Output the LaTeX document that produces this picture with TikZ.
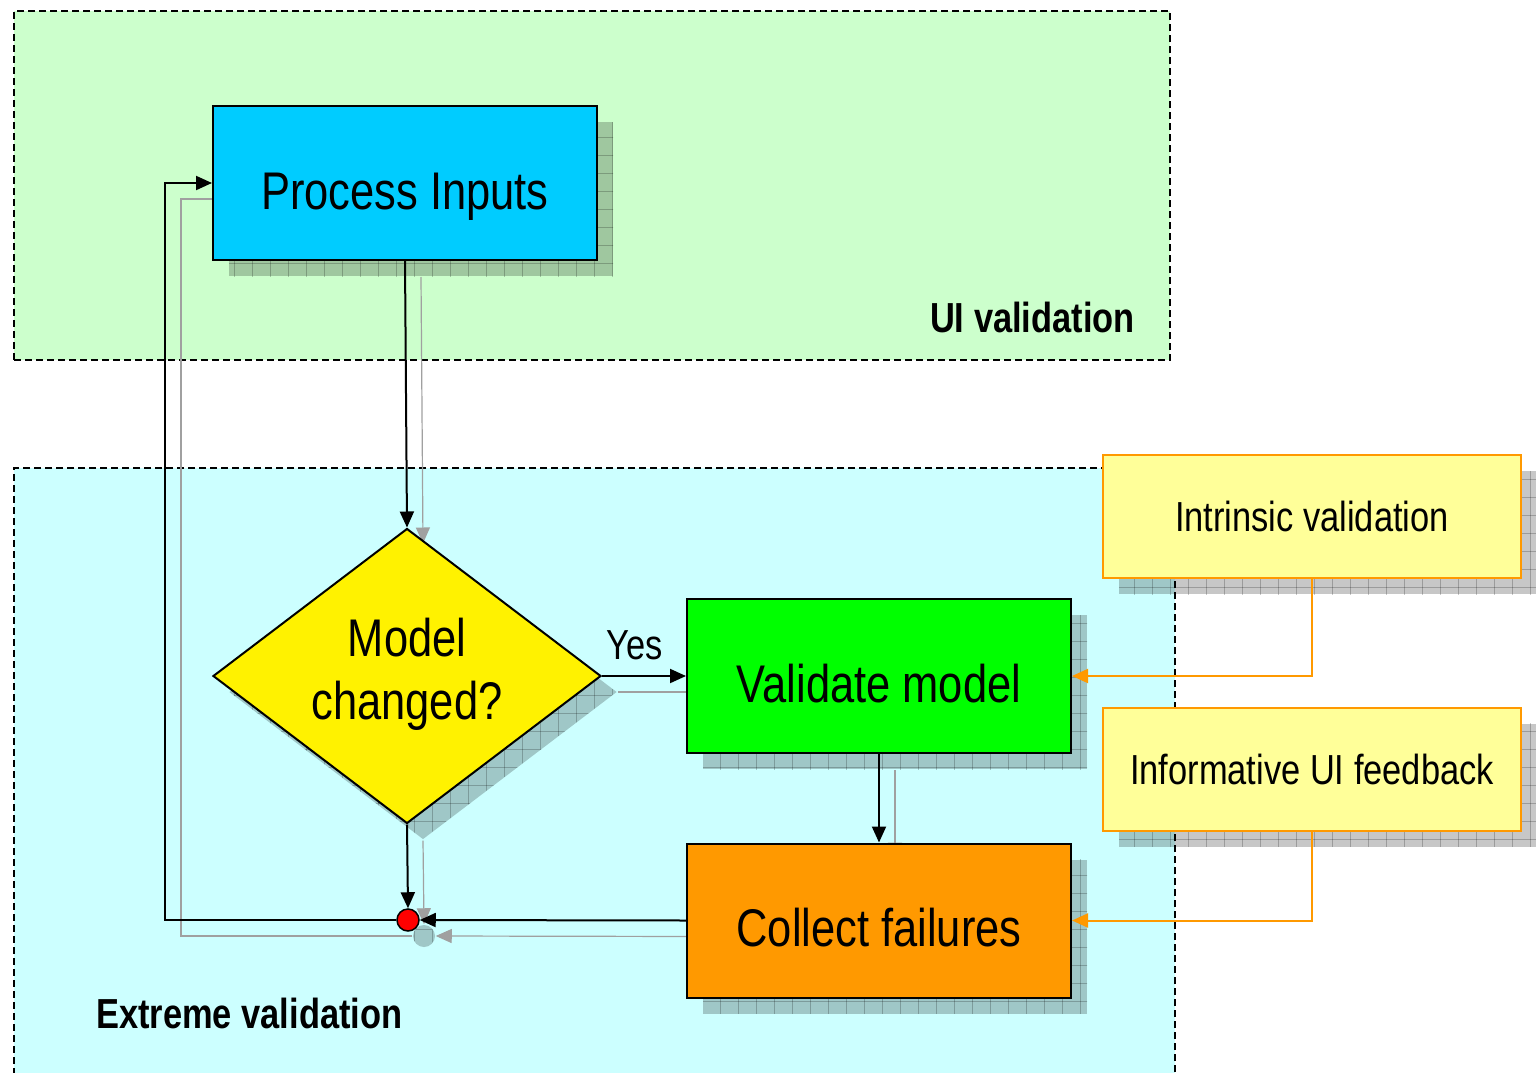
\documentclass[tikz,border=0pt]{standalone}
\usepackage{fontspec}
\setmainfont{Liberation Sans}[FakeStretch=0.82]
\usetikzlibrary{shapes.geometric,arrows.meta,shadows,patterns.meta}

\definecolor{uigreen}{HTML}{CCFFCC}
\definecolor{extcyan}{HTML}{CCFFFF}
\definecolor{procblue}{HTML}{00CCFF}
\definecolor{valgreen}{HTML}{00FF00}
\definecolor{failorange}{HTML}{FF9900}
\definecolor{notefill}{HTML}{FFFF99}
\definecolor{shadegray}{HTML}{A0A0A0}

\pgfdeclarelayer{bg}
\pgfdeclarelayer{shade}
\pgfsetlayers{bg,shade,main}

\tikzset{
  gridtexture/.style={
    postaction={pattern={Lines[distance=18pt,angle=0,line width=0.8pt]},pattern color=black},
    postaction={pattern={Lines[distance=18pt,angle=90,line width=0.8pt]},pattern color=black}},
  stepshade/.style={drop shadow={shadow xshift=16pt,shadow yshift=-16pt,fill=black,opacity=0.22,gridtexture}},
  procbox/.style={draw=black,line width=2pt,minimum width=384pt,minimum height=154pt,
    inner sep=0pt,text height=52pt,text depth=0pt,font=\fontsize{53}{63}\selectfont,stepshade},
  notebox/.style={draw=failorange,line width=2pt,fill=notefill,minimum width=418pt,
    minimum height=123pt,inner sep=0pt,font=\fontsize{42}{50}\selectfont,stepshade},
  region/.style={draw=black,line width=2.4pt,dash pattern=on 7pt off 4pt,inner sep=0pt,anchor=north west},
  regionlabel/.style={font=\bfseries\fontsize{42}{50}\selectfont,inner sep=0pt},
  tip/.style={-{Triangle[length=16pt,width=14pt]}},
  flow/.style={draw=black,line width=2pt,tip},
  flowshade/.style={draw=shadegray,line width=1.2pt,-{Triangle[length=16pt,width=14pt,fill=shadegray]}},
  noteflow/.style={draw=failorange,line width=2pt,tip},
}

\begin{document}
\begin{tikzpicture}[x=1pt,y=-1pt]
\useasboundingbox (0,0) rectangle (1536,1073);

% swim-lane areas
\begin{pgfonlayer}{bg}
  \fill[white] (0,0) rectangle (1536,1073);
  \node[region,fill=uigreen,minimum width=1156pt,minimum height=349pt] (uiarea) at (13,10) {};
  \node[region,fill=extcyan,minimum width=1161pt,minimum height=620pt] (extarea) at (13,467) {};
\end{pgfonlayer}

\node[regionlabel,anchor=east] (uilabel) at (1135,317) {UI validation};
\node[regionlabel,anchor=west] (extlabel) at (96,1013) {Extreme validation};

% flow steps
\node[procbox,fill=procblue] (proc) at (405,183) {Process Inputs};
\node[diamond,draw=black,line width=2pt,fill=yellow,minimum width=388pt,minimum height=295pt,
      inner sep=0pt,stepshade] (dec) at (407,676) {};
\node[font=\fontsize{53}{63}\selectfont,align=center,inner sep=0pt] (dectext) at (407,674) {Model\\changed?};
\node[procbox,fill=valgreen] (val) at (879,676) {Validate model};
\node[procbox,fill=failorange] (col) at (879,920.5) {Collect failures};
\node[circle,draw=black,line width=1.5pt,fill=red,minimum size=22pt,inner sep=0pt,stepshade] (join) at (408,920) {};

% side notes
\node[notebox] (intr) at (1312,516.5) {Intrinsic validation};
\node[notebox] (info) at (1312,769) {Informative UI feedback};

% connectors
\coordinate (loop) at (165,920);
\draw[flow] (proc.south) -- (dec.north);
\draw[flow] (dec.south) -- (join.north);
\draw[flow] (dec.east) -- (val.west);
\node[font=\fontsize{42}{50}\selectfont,inner sep=0pt] (yes) at (635,645) {Yes};
\draw[flow] (val.south) -- (col.north);
\draw[flow] (col.west) -- (join.east);
\draw[flow] (join.west) -- (loop) |- (proc.west);
\draw[noteflow] (intr.south) |- (val.east);
\draw[noteflow] (info.south) |- (col.east);

% connector shadows
\begin{pgfonlayer}{shade}
\begin{scope}[transform canvas={shift={(16pt,-16pt)}}]
  \draw[flowshade] (proc.south) -- (dec.north);
  \draw[flowshade] (dec.south) -- (join.north);
  \draw[flowshade] (dec.east) -- (val.west);
  \draw[flowshade] (val.south) -- (col.north);
  \draw[flowshade] (col.west) -- (join.east);
  \draw[flowshade] (join.west) -- (loop) |- (proc.west);
\end{scope}
\end{pgfonlayer}
\end{tikzpicture}
\end{document}
